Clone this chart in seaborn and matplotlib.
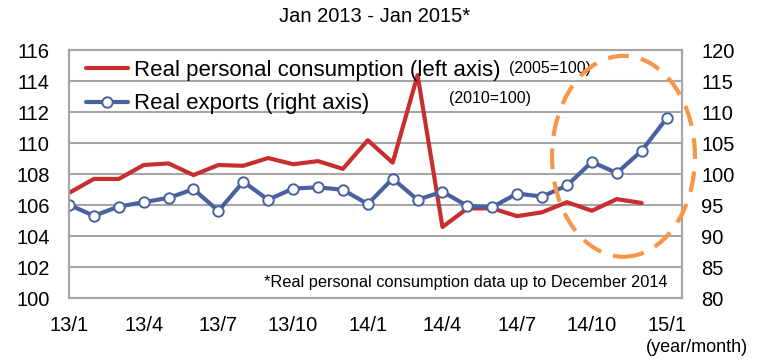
import numpy as np
import pandas as pd
import matplotlib
matplotlib.use('Agg')
import matplotlib.pyplot as plt
from matplotlib.patches import Ellipse
import seaborn as sns

sns.set_style('white')
plt.rcParams['font.family'] = ['Liberation Sans', 'DejaVu Sans']
plt.rcParams['text.color'] = 'black'
plt.rcParams['xtick.color'] = 'black'
plt.rcParams['ytick.color'] = 'black'

# 월별 데이터 (13/1 ~ 15/1)
months = list(range(25))
tick_pos = [0, 3, 6, 9, 12, 15, 18, 21, 24]
tick_labels = ['13/1', '13/4', '13/7', '13/10', '14/1', '14/4', '14/7', '14/10', '15/1']

# 실질 개인소비 (2005=100, 좌축) - 2014년 12월까지
consumption = [106.8, 107.7, 107.7, 108.6, 108.7, 107.95, 108.6, 108.55, 109.05, 108.65,
               108.85, 108.35, 110.2, 108.75, 114.4, 104.6, 105.8, 105.8, 105.3, 105.55,
               106.2, 105.65, 106.4, 106.15]
# 실질 수출 (2010=100, 우축)
exports = [95.1, 93.3, 94.8, 95.5, 96.2, 97.6, 94.1, 98.8, 95.9, 97.7,
           97.9, 97.5, 95.2, 99.3, 95.9, 97.2, 94.9, 94.7, 96.9, 96.4,
           98.2, 102.0, 100.2, 103.8, 109.0]

red = '#C62F2E'
blue = '#4A61A0'
grid_c = '#A6A6A6'

fig = plt.figure(figsize=(7.6, 3.61), dpi=100)
ax = fig.add_axes([69/760, 1 - 298.3/361, 613/760, 248/361])
ax2 = ax.twinx()

sns.lineplot(x=months[:len(consumption)], y=consumption, ax=ax, color=red,
             linewidth=3, label='Real personal consumption (left axis)', legend=False)
sns.lineplot(x=months, y=exports, ax=ax2, color=blue, linewidth=3, marker='o',
             markersize=7.5, markerfacecolor='white', markeredgecolor=blue,
             markeredgewidth=1.4, label='Real exports (right axis)', legend=False)

ax.set_xlim(0, 24.62)
ax.set_ylim(100, 116)
ax.set_yticks(np.arange(100, 117, 2))
ax2.set_ylim(80, 120)
ax2.set_yticks(np.arange(80, 121, 5))
ax.set_xticks(tick_pos)
ax.set_xticklabels(tick_labels)
ax.set_xlabel('')
ax.set_ylabel('')
ax2.set_ylabel('')

ax.grid(axis='y', color=grid_c, linewidth=1.5)
ax.set_axisbelow(True)
for a in (ax, ax2):
    for s in a.spines.values():
        s.set_color(grid_c)
        s.set_linewidth(1.5)
ax.tick_params(axis='y', length=0, pad=14, labelsize=14.5)
ax2.tick_params(axis='y', length=0, pad=14, labelsize=14.5)
ax.tick_params(axis='x', length=5, width=1.5, color=grid_c, pad=8, labelsize=14.5, direction='out')

# 주황색 점선 원
ell = Ellipse((22.27, 102.9), 5.74, 32.4, fill=False, edgecolor='#F79646',
              linewidth=3, linestyle=(0, (5, 3)), clip_on=False, zorder=5)
ax2.add_patch(ell)

# 범례
h1, l1 = ax.get_legend_handles_labels()
h2, l2 = ax2.get_legend_handles_labels()
ax2.legend(h1 + h2, l1 + l2, loc='upper left', bbox_to_anchor=(17/613, 0.96),
           frameon=False, fontsize=16, handlelength=1.9, handletextpad=0.25,
           labelspacing=0.55, borderpad=0, borderaxespad=0)

ax2.text((509-69)/613, (298.3-69)/248, '(2005=100)', transform=ax.transAxes,
         fontsize=11.5, va='center', ha='left')
ax2.text((449-69)/613, (298.3-99)/248, '(2010=100)', transform=ax.transAxes,
         fontsize=11.5, va='center', ha='left')
ax2.text((668-69)/613, (298.3-282)/248, '*Real personal consumption data up to December 2014',
         transform=ax.transAxes, fontsize=11.8, va='center', ha='right')

fig.text(375/760, 1 - 16/361, 'Jan 2013 - Jan 2015*', fontsize=14.5, ha='center', va='center')
fig.text(748/760, 1 - 347/361, '(year/month)', fontsize=13, ha='right', va='center')

fig.savefig('out.png', dpi=100)
